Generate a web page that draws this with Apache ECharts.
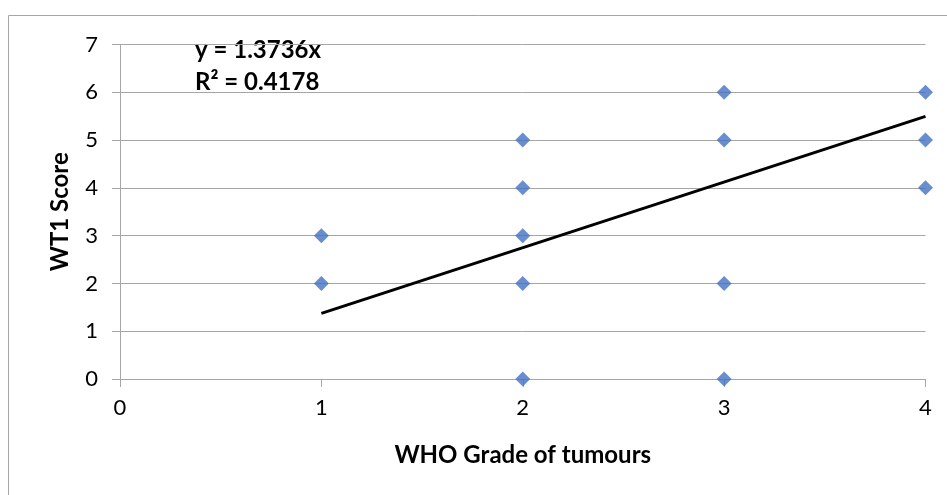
<!DOCTYPE html>
<html>
<head>
<meta charset="utf-8">
<script src="https://cdn.jsdelivr.net/npm/echarts@6/dist/echarts.min.js"></script>
<style>
  html, body { margin: 0; padding: 0; background: #fff; }
  #chart { width: 947px; height: 495px; }
</style>
</head>
<body>
<div id="chart"></div>
<script>
// scatter: WHO grade vs WT1 score
const gradeX = [1, 1, 2, 2, 2, 2, 2, 3, 3, 3, 3, 4, 4, 4];
const scoreY = [2, 3, 0, 2, 3, 4, 5, 0, 2, 5, 6, 4, 5, 6];
// linear trendline through origin, y = 1.3736x
const trendX = [1, 4];
const trendY = [1.3736, 5.4944];
const eqLabel = "y = 1.3736x";
const r2Label = "R² = 0.4178";

const font = "Lato, 'Open Sans', sans-serif";
const chart = echarts.init(document.getElementById("chart"), null, { renderer: "canvas" });

chart.setOption({
  animation: false,
  backgroundColor: "#fff",
  grid: { left: 120, right: 21.5, top: 44.5, bottom: 116 },
  xAxis: {
    type: "value", min: 0, max: 4, interval: 1,
    name: "WHO Grade of tumours", nameLocation: "middle", nameGap: 64,
    nameTextStyle: { fontFamily: font, fontSize: 24, fontWeight: "bold", color: "#000" },
    axisLine: { show: true, lineStyle: { color: "#a6a6a6", width: 1 } },
    axisTick: { show: true, length: 8, lineStyle: { color: "#a6a6a6" } },
    axisLabel: { fontFamily: font, fontSize: 22, color: "#000", margin: 18 },
    splitLine: { show: false }
  },
  yAxis: {
    type: "value", min: 0, max: 7, interval: 1,
    name: "WT1 Score", nameLocation: "middle", nameGap: 48,
    nameTextStyle: { fontFamily: font, fontSize: 24, fontWeight: "bold", color: "#000" },
    axisLine: { show: true, lineStyle: { color: "#a6a6a6", width: 1 } },
    axisTick: { show: true, length: 8, lineStyle: { color: "#a6a6a6" } },
    axisLabel: { fontFamily: font, fontSize: 22, color: "#000", margin: 22 },
    splitLine: { show: true, lineStyle: { color: "#a6a6a6", width: 1 } }
  },
  series: [
    {
      type: "line",
      data: trendX.map((x, i) => [x, trendY[i]]),
      showSymbol: false,
      lineStyle: { color: "#000", width: 3 },
      z: 2
    },
    {
      type: "scatter",
      data: gradeX.map((x, i) => [x, scoreY[i]]),
      symbol: "diamond",
      symbolSize: 15,
      itemStyle: { color: "#4472c4" },
      z: 3
    }
  ],
  graphic: [
    {
      type: "rect", shape: { x: 8.5, y: 15.5, width: 960, height: 500 },
      style: { fill: "none", stroke: "#a6a6a6", lineWidth: 1 }, z: -1, silent: true
    },
    {
      type: "text", left: 195, top: 34,
      style: { text: eqLabel + "\n" + r2Label, fontFamily: font, fontSize: 24, fontWeight: "bold", fill: "#000", lineHeight: 32 }
    }
  ]
});
</script>
</body>
</html>
